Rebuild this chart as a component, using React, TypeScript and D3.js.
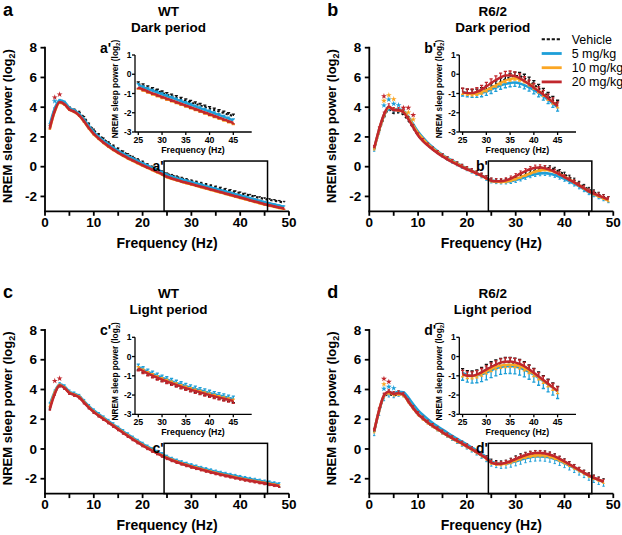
import React from 'react';
import * as d3 from 'd3';

// ---------- series meta ----------
const seriesNames = ['Vehicle', '5 mg/kg', '10 mg/kg', '20 mg/kg'];
const seriesColors = ['#111111', '#1e9fd8', '#fba624', '#c1272d'];

// ---------- data: NREM sleep power (log2), frequency 1..49 Hz ----------
const wtDarkVehicle = [2.7, 3.85, 4.3, 4.25, 3.95, 3.8, 3.65, 3.3, 2.85, 2.45,
  2.15, 1.85, 1.6, 1.38, 1.18, 0.98, 0.8, 0.62, 0.46, 0.3,
  0.12, -0.04, -0.2, -0.36, -0.5, -0.6, -0.7, -0.79, -0.88, -0.97,
  -1.05, -1.13, -1.21, -1.3, -1.38, -1.46, -1.54, -1.62, -1.7, -1.78,
  -1.86, -1.94, -2.02, -2.1, -2.17, -2.23, -2.29, -2.35, -2.41];
const wtDark5 = [2.85, 3.92, 4.47, 4.35, 3.95, 3.78, 3.55, 3.17, 2.73, 2.33,
  2.02, 1.74, 1.5, 1.27, 1.07, 0.88, 0.7, 0.54, 0.38, 0.22,
  0.07, -0.08, -0.23, -0.38, -0.56, -0.67, -0.77, -0.86, -0.95, -1.04,
  -1.13, -1.22, -1.31, -1.4, -1.49, -1.58, -1.67, -1.76, -1.85, -1.94,
  -2.03, -2.12, -2.21, -2.3, -2.39, -2.47, -2.55, -2.62, -2.69];
const wtDark10 = [2.55, 3.7, 4.3, 4.18, 3.83, 3.68, 3.43, 3.02, 2.57, 2.17,
  1.87, 1.59, 1.35, 1.12, 0.92, 0.73, 0.55, 0.39, 0.23, 0.07,
  -0.08, -0.23, -0.38, -0.53, -0.71, -0.82, -0.92, -1.02, -1.11, -1.2,
  -1.29, -1.38, -1.47, -1.56, -1.65, -1.74, -1.83, -1.92, -2.01, -2.1,
  -2.19, -2.28, -2.37, -2.46, -2.55, -2.63, -2.7, -2.77, -2.84];
const wtDark20 = [2.6, 3.75, 4.35, 4.2, 3.85, 3.7, 3.45, 3.05, 2.6, 2.2,
  1.9, 1.62, 1.38, 1.15, 0.95, 0.76, 0.58, 0.42, 0.26, 0.1,
  -0.05, -0.2, -0.35, -0.5, -0.68, -0.79, -0.89, -0.99, -1.08, -1.17,
  -1.26, -1.35, -1.44, -1.53, -1.62, -1.71, -1.8, -1.89, -1.98, -2.07,
  -2.16, -2.25, -2.34, -2.43, -2.52, -2.6, -2.67, -2.74, -2.81];

const r62DarkVehicle = [1.15, 2.35, 3.3, 3.85, 3.6, 3.65, 3.5, 3.1, 2.6, 2.1,
  1.74, 1.44, 1.17, 0.93, 0.71, 0.51, 0.33, 0.16, 0.0, -0.15,
  -0.3, -0.45, -0.6, -0.77, -0.93, -0.98, -1.0, -0.97, -0.9, -0.8,
  -0.68, -0.54, -0.4, -0.26, -0.15, -0.09, -0.1, -0.2, -0.35, -0.53,
  -0.73, -0.93, -1.14, -1.35, -1.55, -1.72, -1.88, -2.03, -2.17];
const r62Dark5 = [1.2, 2.45, 3.45, 3.95, 3.85, 3.85, 3.75, 3.35, 2.85, 2.35,
  1.95, 1.6, 1.3, 1.04, 0.8, 0.59, 0.4, 0.22, 0.05, -0.11,
  -0.27, -0.43, -0.59, -0.76, -0.93, -0.98, -1.0, -1.0, -0.97, -0.9,
  -0.8, -0.69, -0.58, -0.5, -0.45, -0.43, -0.47, -0.56, -0.68, -0.82,
  -0.98, -1.14, -1.33, -1.52, -1.72, -1.86, -2.0, -2.13, -2.26];
const r62Dark10 = [1.2, 2.45, 3.45, 4.0, 3.85, 3.8, 3.7, 3.28, 2.75, 2.25,
  1.86, 1.52, 1.23, 0.98, 0.75, 0.55, 0.36, 0.19, 0.02, -0.14,
  -0.29, -0.45, -0.6, -0.78, -0.95, -1.0, -1.02, -1.0, -0.93, -0.82,
  -0.7, -0.57, -0.45, -0.33, -0.25, -0.21, -0.25, -0.35, -0.5, -0.67,
  -0.86, -1.05, -1.25, -1.45, -1.65, -1.82, -1.98, -2.12, -2.28];
const r62Dark20 = [1.25, 2.5, 3.5, 4.05, 3.8, 3.8, 3.65, 3.2, 2.65, 2.1,
  1.72, 1.42, 1.15, 0.91, 0.69, 0.49, 0.31, 0.14, -0.02, -0.17,
  -0.31, -0.46, -0.61, -0.78, -0.94, -0.98, -0.98, -0.92, -0.8, -0.64,
  -0.46, -0.3, -0.16, -0.07, -0.05, -0.1, -0.2, -0.35, -0.52, -0.7,
  -0.88, -1.06, -1.25, -1.45, -1.66, -1.8, -1.94, -2.07, -2.2];

// light period: 1..48 Hz
const wtLightVehicle = [2.75, 3.72, 4.25, 4.1, 3.78, 3.65, 3.55, 3.15, 2.8, 2.5,
  2.26, 2.03, 1.8, 1.57, 1.34, 1.11, 0.89, 0.67, 0.46, 0.26,
  0.07, -0.11, -0.28, -0.44, -0.6, -0.74, -0.86, -0.97, -1.08, -1.18,
  -1.27, -1.36, -1.45, -1.54, -1.62, -1.7, -1.77, -1.84, -1.91, -1.98,
  -2.05, -2.11, -2.17, -2.23, -2.29, -2.35, -2.41, -2.47];
const wtLight5 = [3.0, 3.85, 4.35, 4.2, 3.85, 3.72, 3.56, 3.22, 2.88, 2.58,
  2.34, 2.11, 1.88, 1.65, 1.42, 1.19, 0.97, 0.75, 0.54, 0.34,
  0.15, -0.03, -0.2, -0.36, -0.53, -0.67, -0.79, -0.9, -1.0, -1.1,
  -1.19, -1.28, -1.37, -1.45, -1.53, -1.61, -1.68, -1.75, -1.82, -1.89,
  -1.96, -2.02, -2.08, -2.14, -2.2, -2.26, -2.32, -2.38];
const wtLight10 = [2.8, 3.78, 4.3, 4.12, 3.78, 3.65, 3.5, 3.15, 2.8, 2.5,
  2.26, 2.03, 1.8, 1.57, 1.34, 1.11, 0.89, 0.67, 0.46, 0.26,
  0.07, -0.11, -0.28, -0.44, -0.6, -0.74, -0.86, -0.97, -1.08, -1.18,
  -1.27, -1.36, -1.45, -1.54, -1.62, -1.7, -1.77, -1.84, -1.91, -1.98,
  -2.05, -2.11, -2.17, -2.23, -2.29, -2.35, -2.41, -2.47];
const wtLight20 = [2.7, 3.72, 4.28, 4.1, 3.76, 3.63, 3.47, 3.12, 2.78, 2.48,
  2.24, 2.01, 1.78, 1.55, 1.32, 1.09, 0.87, 0.65, 0.44, 0.24,
  0.05, -0.13, -0.3, -0.46, -0.62, -0.76, -0.88, -0.99, -1.1, -1.2,
  -1.29, -1.38, -1.47, -1.56, -1.64, -1.72, -1.79, -1.86, -1.93, -2.0,
  -2.07, -2.13, -2.19, -2.25, -2.31, -2.37, -2.43, -2.49];

const r62LightVehicle = [1.15, 2.5, 3.5, 3.7, 3.6, 3.7, 3.6, 3.18, 2.72, 2.32,
  2.02, 1.75, 1.52, 1.3, 1.09, 0.89, 0.7, 0.51, 0.33, 0.15,
  -0.04, -0.24, -0.44, -0.64, -0.88, -0.98, -1.0, -0.95, -0.82, -0.66,
  -0.52, -0.42, -0.35, -0.3, -0.3, -0.33, -0.4, -0.52, -0.68, -0.86,
  -1.05, -1.24, -1.43, -1.62, -1.8, -1.95, -2.08, -2.2];
const r62Light5 = [1.2, 2.55, 3.55, 3.8, 3.75, 3.85, 3.82, 3.45, 3.0, 2.6,
  2.28, 2.0, 1.75, 1.52, 1.3, 1.09, 0.88, 0.68, 0.49, 0.3,
  0.1, -0.1, -0.32, -0.55, -0.85, -0.95, -1.0, -0.98, -0.92, -0.83,
  -0.72, -0.62, -0.55, -0.51, -0.5, -0.52, -0.58, -0.68, -0.8, -0.95,
  -1.11, -1.28, -1.45, -1.62, -1.8, -1.95, -2.08, -2.2];
const r62Light10 = [1.2, 2.58, 3.58, 3.8, 3.68, 3.72, 3.62, 3.2, 2.75, 2.35,
  2.05, 1.78, 1.55, 1.33, 1.12, 0.92, 0.73, 0.54, 0.36, 0.18,
  -0.01, -0.21, -0.42, -0.63, -0.92, -1.0, -1.02, -0.97, -0.88, -0.76,
  -0.64, -0.54, -0.47, -0.43, -0.42, -0.44, -0.5, -0.6, -0.74, -0.9,
  -1.07, -1.25, -1.43, -1.61, -1.79, -1.94, -2.08, -2.2];
const r62Light20 = [1.2, 2.6, 3.6, 3.85, 3.7, 3.75, 3.65, 3.2, 2.75, 2.35,
  2.05, 1.78, 1.55, 1.33, 1.12, 0.92, 0.73, 0.54, 0.36, 0.18,
  -0.01, -0.21, -0.42, -0.63, -0.92, -1.0, -1.0, -0.93, -0.82, -0.68,
  -0.54, -0.42, -0.32, -0.27, -0.26, -0.3, -0.38, -0.5, -0.66, -0.84,
  -1.03, -1.22, -1.41, -1.6, -1.78, -1.93, -2.07, -2.2];

// SEM per series [Vehicle, 5, 10, 20] and the side the bar is drawn on (+1 up, -1 down)
const semA = [0.1, 0.07, 0.06, 0.06];
const dirA = [1, 1, -1, -1];
const semB = [0.2, 0.2, 0.1, 0.22];
const dirB = [1, -1, -1, 1];
const semC = [0.1, 0.14, 0.08, 0.12];
const dirC = [-1, 1, 1, -1];
const semD = [0.25, 0.38, 0.14, 0.2];
const dirD = [1, -1, -1, 1];

// significance stars: [frequency, series index, value]
const starsA = [[2, 3, 4.66], [2, 1, 4.41], [3, 3, 4.86]];
const starsB = [[3, 3, 4.74], [3, 2, 4.43], [3, 1, 4.12], [4, 2, 4.81], [4, 1, 4.52],
  [5, 2, 4.54], [5, 1, 4.23], [6, 1, 4.14], [7, 3, 3.96], [8, 3, 3.96], [8, 2, 3.65],
  [9, 3, 3.47], [9, 2, 3.18]];
const starsC = [[2, 3, 4.58], [3, 3, 4.74]];
const starsD = [[3, 3, 4.72], [3, 2, 4.36], [3, 1, 4.05], [4, 3, 4.52], [4, 1, 4.18], [5, 1, 4.09]];

const mainXTicks = [0, 5, 10, 15, 20, 25, 30, 35, 40, 45, 50];
const mainXLabels = [0, 10, 20, 30, 40, 50];
const mainYTicks = [-2, 0, 2, 4, 6, 8];
const insetXTicks = [25, 30, 35, 40, 45];
const insetYTicks = [-3, -2, -1, 0, 1];
const zoomRange = [24.4, 45.6, 0.38];

const panels = [
  { letter: 'a', ox: 0, oy: 0, group: 'WT', period: 'Dark period',
    series: [wtDarkVehicle, wtDark5, wtDark10, wtDark20], sem: semA, dir: dirA, stars: starsA },
  { letter: 'b', ox: 324.3, oy: 0, group: 'R6/2', period: 'Dark period',
    series: [r62DarkVehicle, r62Dark5, r62Dark10, r62Dark20], sem: semB, dir: dirB, stars: starsB },
  { letter: 'c', ox: 0, oy: 282.3, group: 'WT', period: 'Light period',
    series: [wtLightVehicle, wtLight5, wtLight10, wtLight20], sem: semC, dir: dirC, stars: starsC },
  { letter: 'd', ox: 324.3, oy: 282.3, group: 'R6/2', period: 'Light period',
    series: [r62LightVehicle, r62Light5, r62Light10, r62Light20], sem: semD, dir: dirD, stars: starsD },
];

const FONT = 'Liberation Sans, Arial, Helvetica, sans-serif';

function errPath(data: number[], sem: number, dir: number, xs: any, ys: any, cap: number, from = 1, to = 99) {
  let d = '';
  data.forEach((v, i) => {
    const f = i + 1;
    if (f < from || f > to) return;
    const x = xs(f);
    const y0 = ys(v);
    const y1 = ys(v + dir * sem);
    d += `M${x},${y0}V${y1}M${x - cap},${y1}H${x + cap}`;
  });
  return d;
}

function Panel({ p }: { p: any }) {
  const x = d3.scaleLinear().domain([0, 50]).range([45, 289]);
  const y = d3.scaleLinear().domain([-3, 8]).range([211.3, 47.7]);
  const xi = d3.scaleLinear().domain([25, 45]).range([138.3, 233.3]);
  const yi = d3.scaleLinear().domain([-3, 1]).range([132, 55]);
  const insetLeft = 135, insetRight = 251.7;

  const line = d3.line<number>().x((_, i) => x(i + 1)).y((d) => y(d)).curve(d3.curveMonotoneX);
  const insetLine = d3.line<[number, number]>().x((d) => xi(d[0])).y((d) => yi(d[1])).curve(d3.curveMonotoneX);
  const star = d3.symbol().type(d3.symbolStar).size(11)();

  return (
    <g transform={`translate(${p.ox},${p.oy})`} fontFamily={FONT}>
      {/* letter and titles */}
      <text x={3} y={15.5} fontSize={18} fontWeight="bold">{p.letter}</text>
      <text x={168.5} y={15.5} fontSize={13.5} fontWeight="bold" textAnchor="middle">{p.group}</text>
      <text x={168.5} y={31.5} fontSize={13.5} fontWeight="bold" textAnchor="middle">{p.period}</text>

      {/* main axes */}
      <g stroke="#000" strokeWidth={1.8} fill="none">
        <line x1={x(0)} x2={x(0)} y1={y(8) - 0.9} y2={y(-3)} />
        <line x1={x(0) - 0.9} x2={x(50)} y1={y(-3)} y2={y(-3)} />
        {mainXTicks.map((t) => <line key={t} x1={x(t)} x2={x(t)} y1={y(-3)} y2={y(-3) + 4.5} />)}
        {mainYTicks.map((t) => <line key={t} x1={x(0) - 4.5} x2={x(0)} y1={y(t)} y2={y(t)} />)}
      </g>
      {mainXLabels.map((t) => (
        <text key={t} x={x(t)} y={226.5} fontSize={13.5} fontWeight="bold" textAnchor="middle">{t}</text>
      ))}
      {mainYTicks.map((t) => (
        <text key={t} x={37} y={y(t) + 4.7} fontSize={13.5} fontWeight="bold" textAnchor="end">{t}</text>
      ))}
      <text x={167} y={248} fontSize={14} fontWeight="bold" textAnchor="middle">Frequency (Hz)</text>
      <text transform="translate(11.5,126) rotate(-90)" fontSize={13} fontWeight="bold" textAnchor="middle">
        NREM sleep power (log<tspan fontSize={9} dy={3}>2</tspan><tspan dy={-3}>)</tspan>
      </text>

      {/* main series */}
      {p.series.map((s: number[], k: number) => (
        <g key={k}>
          <path d={errPath(s, p.sem[k] * 0.8, p.dir[k], x, y, 1.2)} stroke={seriesColors[k]} strokeWidth={1} fill="none" />
          <path d={line(s) || ''} stroke={seriesColors[k]} fill="none"
            strokeWidth={k === 0 ? 2.2 : 2.6} strokeDasharray={k === 0 ? '2.4 2.4' : undefined} />
        </g>
      ))}
      {p.stars.map((st: number[], i: number) => (
        <path key={i} d={star || ''} transform={`translate(${x(st[0])},${y(st[2])})`} fill={seriesColors[st[1]]} />
      ))}

      {/* zoom rectangle */}
      <rect x={x(zoomRange[0])} y={y(zoomRange[2])} width={x(zoomRange[1]) - x(zoomRange[0])}
        height={y(-3) - y(zoomRange[2])} fill="none" stroke="#000" strokeWidth={1.5} />
      <text x={x(zoomRange[0]) - 0.5} y={170.5} fontSize={14} fontWeight="bold" textAnchor="end">{p.letter + "'"}</text>

      {/* inset */}
      <text x={100} y={53} fontSize={14} fontWeight="bold">{p.letter + "'"}</text>
      <g stroke="#000" strokeWidth={1.3} fill="none">
        <line x1={insetLeft} x2={insetLeft} y1={yi(1)} y2={yi(-3)} />
        <line x1={insetLeft} x2={insetRight} y1={yi(-3)} y2={yi(-3)} />
        {insetYTicks.map((t) => <line key={t} x1={insetLeft - 3} x2={insetLeft} y1={yi(t)} y2={yi(t)} />)}
        {insetXTicks.map((t) => <line key={t} x1={xi(t)} x2={xi(t)} y1={yi(-3)} y2={yi(-3) + 3} />)}
      </g>
      {insetYTicks.map((t) => (
        <text key={t} x={131.5} y={yi(t) + 3.2} fontSize={8.5} fontWeight="bold" textAnchor="end">{t}</text>
      ))}
      {insetXTicks.map((t) => (
        <text key={t} x={xi(t)} y={143} fontSize={8.8} fontWeight="bold" textAnchor="middle">{t}</text>
      ))}
      <text x={193} y={153} fontSize={8.8} fontWeight="bold" textAnchor="middle">Frequency (Hz)</text>
      <text transform="translate(118,89) rotate(-90)" fontSize={8.3} fontWeight="bold" textAnchor="middle">
        NREM sleep power (log<tspan fontSize={6} dy={2}>2</tspan><tspan dy={-2}>)</tspan>
      </text>
      {p.series.map((s: number[], k: number) => {
        const pts: [number, number][] = s.map((v, i) => [i + 1, v] as [number, number]).filter((d) => d[0] >= 25 && d[0] <= 45);
        return (
          <g key={k}>
            <path d={errPath(s, p.sem[k], p.dir[k], xi, yi, 1.6, 25, 45)} stroke={seriesColors[k]} strokeWidth={1.3} fill="none" />
            <path d={insetLine(pts) || ''} stroke={seriesColors[k]} fill="none"
              strokeWidth={k === 0 ? 2 : 2.4} strokeDasharray={k === 0 ? '2.2 2.2' : undefined} />
          </g>
        );
      })}
    </g>
  );
}

function Legend() {
  const x0 = 541.7, x1 = 561.7, tx = 571.7, y0 = 39.3, dy = 14.2;
  return (
    <g fontFamily={FONT}>
      {seriesNames.map((n, i) => (
        <g key={n}>
          <line x1={x0} x2={x1} y1={y0 + i * dy} y2={y0 + i * dy} stroke={seriesColors[i]}
            strokeWidth={i === 0 ? 2 : 2.8} strokeDasharray={i === 0 ? '3.2 1.8' : undefined} />
          <text x={tx} y={y0 + i * dy + 4.4} fontSize={12.5}>{n}</text>
        </g>
      ))}
    </g>
  );
}

export default function App() {
  return (
    <svg width={622} height={535} viewBox="0 0 622 535"
      style={{ position: 'absolute', left: 0, top: 0, background: '#fff' }}>
      <rect x={0} y={0} width={622} height={535} fill="#fff" />
      {panels.map((p) => <Panel key={p.letter} p={p} />)}
      <Legend />
    </svg>
  );
}
